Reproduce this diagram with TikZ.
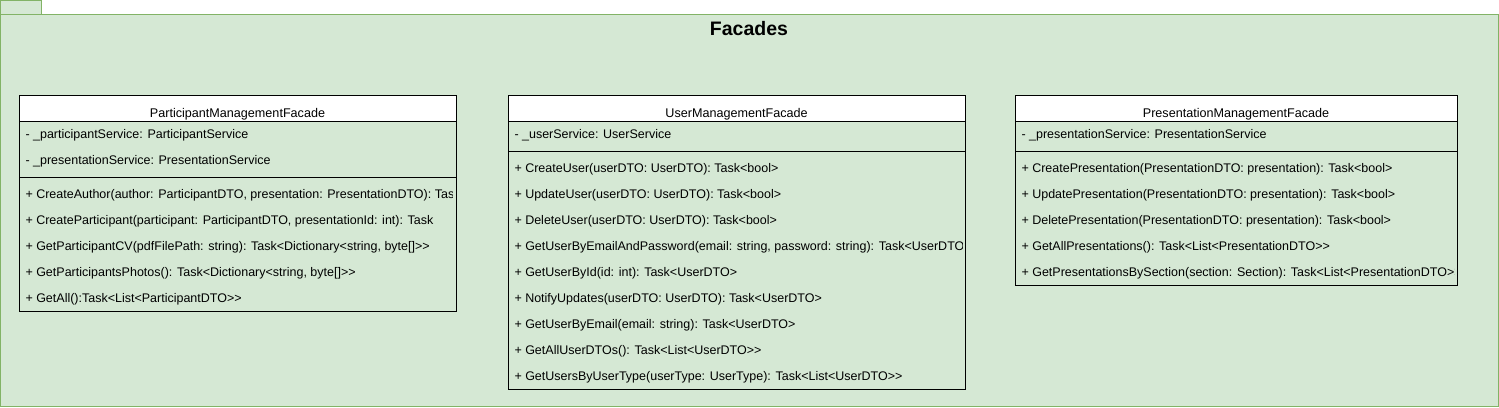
\documentclass[tikz,border=0pt]{standalone}
\usepackage{fontspec}
\setmainfont{Liberation Sans}[Ligatures=TeXOff]
\usepackage{tikz}

\definecolor{pkgfill}{HTML}{D5E8D4}
\definecolor{pkgline}{HTML}{82B366}

\begin{document}
\begin{tikzpicture}[x=1pt,y=-1pt,line width=1pt,
  member/.style={anchor=base west,inner sep=0pt,font=\fontsize{12.5}{14}\selectfont},
  classname/.style={anchor=base,inner sep=0pt,font=\fontsize{12.6}{14}\selectfont}]
  \useasboundingbox (0,0) rectangle (1499,407);
  % package
  \draw[pkgline,fill=pkgfill] (0.5,0.5) rectangle (41,14);
  \draw[pkgline,fill=pkgfill] (0.5,14) rectangle (1498,406);
  \node[anchor=base,inner sep=0pt,font=\bfseries\fontsize{19.5}{22}\selectfont] (facades) at (749,35) {Facades};

  % ParticipantManagementFacade
  \draw[fill=white] (19,95) rectangle (456,121);
  \draw (19,95) rectangle (456,311);
  \draw (19,177) -- (456,177);
  \node[classname] (pmf) at (237.5,117) {ParticipantManagementFacade};
  \begin{scope}
    \clip (19,95) rectangle (452.5,311);
    \node[member] (pmfA1) at (25,138) {- \_participantService: ParticipantService};
    \node[member] (pmfA2) at (25,164) {- \_presentationService: PresentationService};
    \node[member] (pmfM1) at (25,198) {+ CreateAuthor(author: ParticipantDTO, presentation: PresentationDTO): Task};
    \node[member] (pmfM2) at (25,224) {+ CreateParticipant(participant: ParticipantDTO, presentationId: int): Task};
    \node[member] (pmfM3) at (25,250) {+ GetParticipantCV(pdfFilePath: string): Task<Dictionary<string, byte[]>>};
    \node[member] (pmfM4) at (25,276) {+ GetParticipantsPhotos(): Task<Dictionary<string, byte[]>>};
    \node[member] (pmfM5) at (25,302) {+ GetAll():Task<List<ParticipantDTO>>};
  \end{scope}

  % UserManagementFacade
  \draw[fill=white] (508,95) rectangle (965,121);
  \draw (508,95) rectangle (965,389);
  \draw (508,151) -- (965,151);
  \node[classname] (umf) at (736.5,117) {UserManagementFacade};
  \begin{scope}
    \clip (508,95) rectangle (962.3,389);
    \node[member] (umfA1) at (514,138) {- \_userService: UserService};
    \node[member] (umfM1) at (514,172) {+ CreateUser(userDTO: UserDTO): Task<bool>};
    \node[member] (umfM2) at (514,198) {+ UpdateUser(userDTO: UserDTO): Task<bool>};
    \node[member] (umfM3) at (514,224) {+ DeleteUser(userDTO: UserDTO): Task<bool>};
    \node[member] (umfM4) at (514,250) {+ GetUserByEmailAndPassword(email: string, password: string): Task<UserDTO>};
    \node[member] (umfM5) at (514,276) {+ GetUserById(id: int): Task<UserDTO>};
    \node[member] (umfM6) at (514,302) {+ NotifyUpdates(userDTO: UserDTO): Task<UserDTO>};
    \node[member] (umfM7) at (514,328) {+ GetUserByEmail(email: string): Task<UserDTO>};
    \node[member] (umfM8) at (514,354) {+ GetAllUserDTOs(): Task<List<UserDTO>>};
    \node[member] (umfM9) at (514,380) {+ GetUsersByUserType(userType: UserType): Task<List<UserDTO>>};
  \end{scope}

  % PresentationManagementFacade
  \draw[fill=white] (1015,95) rectangle (1457,121);
  \draw (1015,95) rectangle (1457,285);
  \draw (1015,151) -- (1457,151);
  \node[classname] (prmf) at (1236,117) {PresentationManagementFacade};
  \begin{scope}
    \clip (1015,95) rectangle (1454,285);
    \node[member] (prmfA1) at (1021,138) {- \_presentationService: PresentationService};
    \node[member] (prmfM1) at (1021,172) {+ CreatePresentation(PresentationDTO: presentation): Task<bool>};
    \node[member] (prmfM2) at (1021,198) {+ UpdatePresentation(PresentationDTO: presentation): Task<bool>};
    \node[member] (prmfM3) at (1021,224) {+ DeletePresentation(PresentationDTO: presentation): Task<bool>};
    \node[member] (prmfM4) at (1021,250) {+ GetAllPresentations(): Task<List<PresentationDTO>>};
    \node[member] (prmfM5) at (1021,276) {+ GetPresentationsBySection(section: Section): Task<List<PresentationDTO>>};
  \end{scope}
\end{tikzpicture}
\end{document}
